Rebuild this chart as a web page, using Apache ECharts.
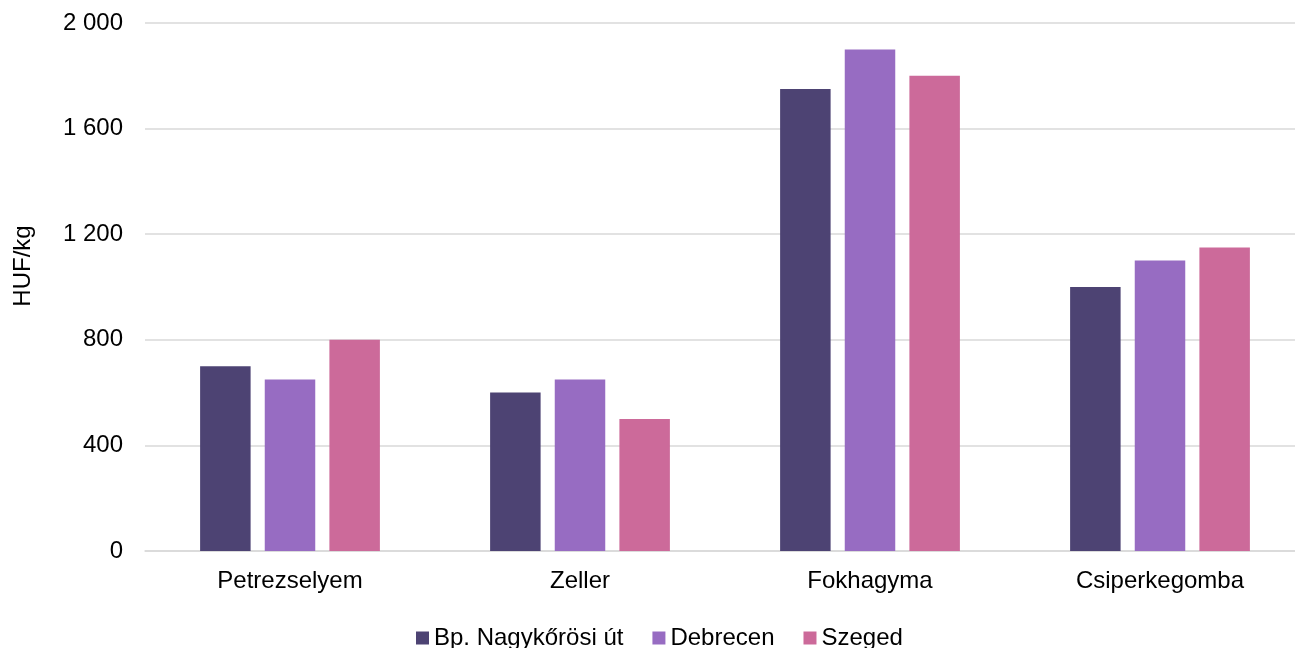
<!DOCTYPE html>
<html><head><meta charset="utf-8">
<script src="https://cdn.jsdelivr.net/npm/echarts@6/dist/echarts.min.js"></script>
<style>html,body{margin:0;padding:0;background:#fff}#c{width:1295px;height:648px}</style>
</head><body><div id="c"></div>
<script>
const categories = ['Petrezselyem', 'Zeller', 'Fokhagyma', 'Csiperkegomba'];
const seriesNames = ['Bp. Nagykőrösi út', 'Debrecen', 'Szeged'];
const bpValues = [700, 600, 1750, 1000];
const debrecenValues = [650, 650, 1900, 1100];
const szegedValues = [800, 500, 1800, 1150];
const colors = ['#4D4373', '#976CC2', '#CC6A9A'];
const chart = echarts.init(document.getElementById('c'));
const font = 'Arial, "Liberation Sans", sans-serif';
const mk = (name, data, color) => ({
  name, type: 'bar', data, barWidth: 50.5, barGap: '28%',
  itemStyle: { color }
});
chart.setOption({
  animation: false,
  textStyle: { fontFamily: font },
  grid: { left: 145, width: 1160, top: 23, bottom: 97, outerBoundsMode: 'none', containLabel: false },
  legend: {
    left: 411, bottom: -7, itemWidth: 13, itemHeight: 13, itemGap: 29,
    icon: 'rect',
    textStyle: { fontSize: 24, color: '#000', fontFamily: font, padding: [0, 0, 0, 0] },
    data: seriesNames
  },
  xAxis: {
    type: 'category', data: categories,
    axisTick: { show: false },
    axisLine: { lineStyle: { color: '#d9d9d9', width: 1.5 } },
    axisLabel: { fontSize: 24, color: '#000', margin: 18 }
  },
  yAxis: {
    type: 'value', min: 0, max: 2000, interval: 400,
    name: 'HUF/kg', nameLocation: 'middle', nameGap: 110,
    nameTextStyle: { fontSize: 24, color: '#000', padding: [0, 0, 0, 42] },
    splitLine: { lineStyle: { color: '#d9d9d9', width: 1.5 } },
    axisLabel: { fontSize: 24, color: '#000', margin: 22,
      formatter: v => String(v).replace(/\B(?=(\d{3})+(?!\d))/g, ' ') }
  },
  series: [
    mk(seriesNames[0], bpValues, colors[0]),
    mk(seriesNames[1], debrecenValues, colors[1]),
    mk(seriesNames[2], szegedValues, colors[2])
  ]
});
</script></body></html>
